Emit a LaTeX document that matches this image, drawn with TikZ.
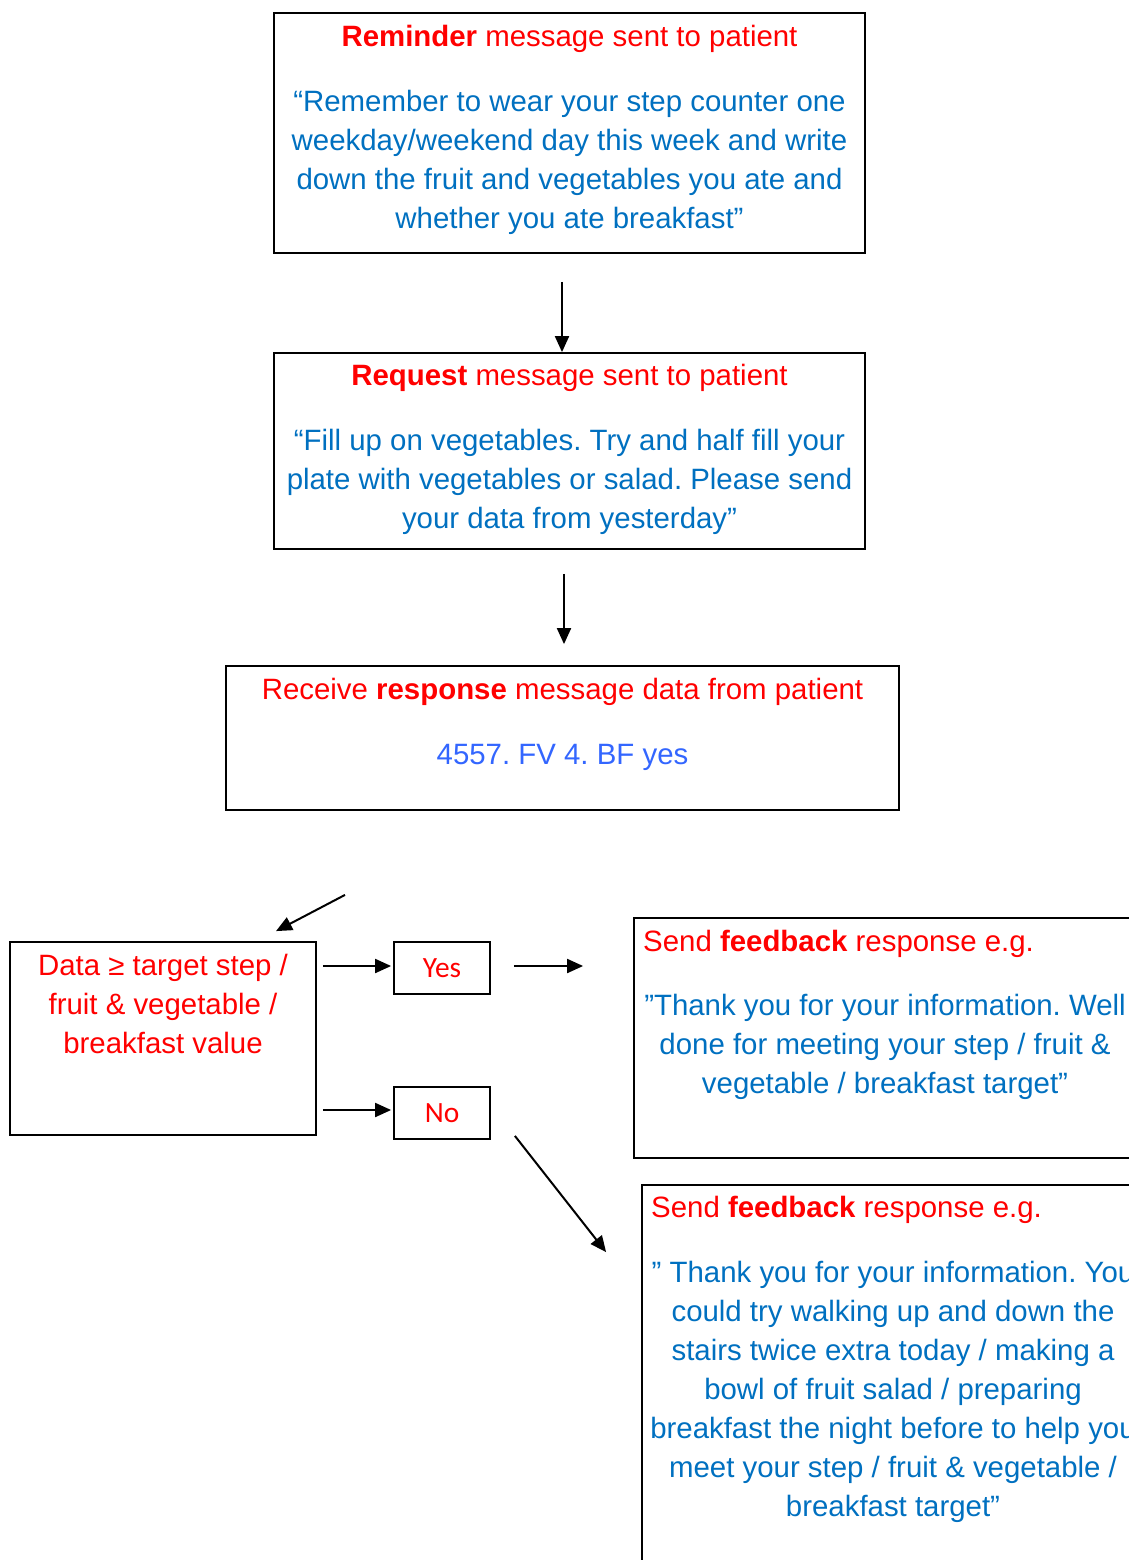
\documentclass[tikz,border=0pt]{standalone}
\usepackage{fontspec}
\setmainfont{Liberation Sans}
\newfontfamily\yesfont{Carlito}
\usetikzlibrary{arrows.meta,calc}
\definecolor{tred}{RGB}{255,0,0}
\definecolor{tblue}{RGB}{0,112,192}
\definecolor{dblue}{RGB}{51,102,255}
\newcommand{\firstln}{\rule{0pt}{30pt}}
\frenchspacing
\begin{document}
\begin{tikzpicture}[x=1pt,y=-1pt,
  box/.style={draw=black, line width=1.8pt, inner sep=0pt},
  txt/.style={inner sep=0pt, align=center, font=\fontsize{29.4}{39}\selectfont\frenchspacing},
  yn/.style={box, minimum width=96pt, minimum height=52pt, text=tred, font=\yesfont\fontsize{29.4}{35}\selectfont},
  arr/.style={line width=2pt, -{Triangle[length=16pt,width=14pt]}}]
\useasboundingbox (0,0) rectangle (1129,1560);
\clip (0,0) rectangle (1129,1560);
% boxes
\node[box, minimum width=591pt, minimum height=240pt] (b1) at (569.5,133) {};
\node[box, minimum width=591pt, minimum height=196pt] (b2) at (569.5,451) {};
\node[box, minimum width=673pt, minimum height=144pt] (b3) at (562.5,738) {};
\node[box, minimum width=306pt, minimum height=193pt] (b4) at (163,1038.5) {};
\node[yn] (yes) at (442,968) {Yes};
\node[yn] (no) at (442,1113) {No};
\node[box, minimum width=502pt, minimum height=240pt] (b5) at (885,1038) {};
\node[box, minimum width=502pt, minimum height=415pt] (b6) at (893,1392.5) {};
% texts
\node[txt, text=tred, anchor=north] (t1) at (569.5,16) {\firstln\textbf{Reminder} message sent to patient};
\node[txt, text=tblue, anchor=north] (q1) at (569.5,81) {\firstln“Remember to wear your step counter one\\weekday/weekend day this week and write\\down the fruit and vegetables you ate and\\whether you ate breakfast”};
\node[txt, text=tred, anchor=north] (t2) at (569.5,355) {\firstln\textbf{Request} message sent to patient};
\node[txt, text=tblue, anchor=north] (q2) at (569.5,420) {\firstln“Fill up on vegetables. Try and half fill your\\plate with vegetables or salad. Please send\\your data from yesterday”};
\node[txt, text=tred, anchor=north] (t3) at (562.5,669) {\firstln Receive \textbf{response} message data from patient};
\node[txt, text=dblue, anchor=north] (q3) at (562.5,734) {\firstln 4557. FV 4. BF yes};
\node[txt, text=tred, anchor=north] (t4) at (163,945) {\firstln Data ≥ target step /\\fruit \& vegetable /\\breakfast value};
\node[txt, text=tred, anchor=north west] (t5) at (643,921) {\firstln Send \textbf{feedback} response e.g.};
\node[txt, text=tblue, anchor=north] (q5) at (885,985) {\firstln”Thank you for your information. Well\\done for meeting your step / fruit \&\\vegetable / breakfast target”};
\node[txt, text=tred, anchor=north west] (t6) at (651,1187) {\firstln Send \textbf{feedback} response e.g.};
\node[txt, text=tblue, anchor=north] (q6) at (893,1252) {\firstln” Thank you for your information. You\\could try walking up and down the\\stairs twice extra today / making a\\bowl of fruit salad / preparing\\breakfast the night before to help you\\meet your step / fruit \& vegetable /\\breakfast target”};
% connectors
\draw[arr] ([xshift=-7.5pt,yshift=-28pt]b1.south) -- ([xshift=-7.5pt]b2.north);
\draw[arr] ([xshift=-5.5pt,yshift=-24pt]b2.south) -- ([xshift=1.5pt,yshift=21pt]b3.north);
\draw[arr] ([xshift=-217.5pt,yshift=-84pt]b3.south) -- ([xshift=113pt,yshift=10pt]b4.north);
\draw[arr] ($(b4.east |- yes.west)+(6,-2)$) -- ($(yes.west)+(-2,-2)$);
\draw[arr] ($(b4.east |- no.west)+(6,-3)$) -- ($(no.west)+(-2,-3)$);
\draw[arr] ($(yes.east)+(23,-2)$) -- ($(b5.west |- yes.east)+(-50,-2)$);
\draw[arr] ($(no.south east)+(24,-4)$) -- ($(b6.north west)+(-35,68)$);
\end{tikzpicture}
\end{document}
